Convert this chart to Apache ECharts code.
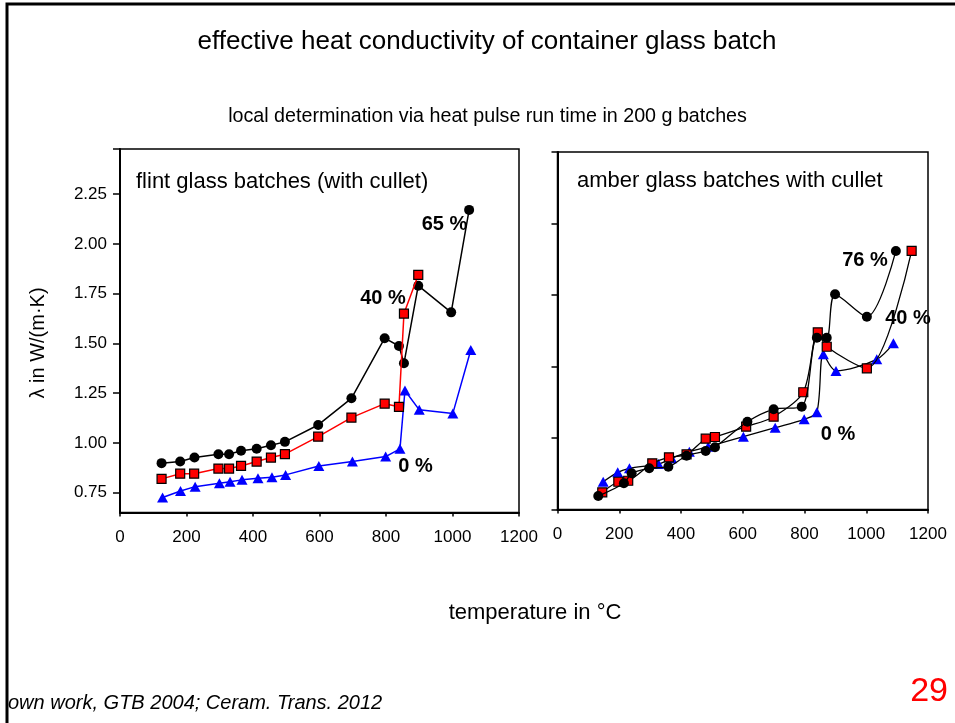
<!DOCTYPE html>
<html>
<head>
<meta charset="utf-8">
<script src="https://cdn.jsdelivr.net/npm/echarts@6/dist/echarts.min.js"></script>
<style>
  html, body { margin: 0; padding: 0; background: #ffffff; }
  #chart { width: 955px; height: 723px; }
</style>
</head>
<body>
<div id="chart"></div>
<script>
// Temperature (°C) and effective heat conductivity λ (W/(m·K))

// Flint glass batches, 65 % cullet
const flint65Temp = [125, 181, 224, 296, 328, 364, 411, 454, 496, 596, 696, 796, 839, 854, 897, 996, 1050];
const flint65Lambda = [0.898, 0.906, 0.926, 0.943, 0.943, 0.960, 0.970, 0.988, 1.005, 1.090, 1.224, 1.526, 1.487, 1.400, 1.790, 1.656, 2.171];

// Flint glass batches, 40 % cullet
const flint40Temp = [125, 181, 223, 296, 328, 364, 411, 454, 496, 596, 696, 796, 839, 854, 897];
const flint40Lambda = [0.819, 0.845, 0.845, 0.871, 0.871, 0.884, 0.906, 0.926, 0.943, 1.031, 1.127, 1.197, 1.181, 1.650, 1.844];

// Flint glass batches, 0 % cullet
const flint0Temp = [128, 182, 226, 299, 331, 367, 415, 457, 498, 598, 699, 799, 842, 857, 900, 1001, 1055];
const flint0Lambda = [0.725, 0.758, 0.780, 0.797, 0.804, 0.814, 0.822, 0.827, 0.839, 0.884, 0.906, 0.931, 0.970, 1.263, 1.166, 1.148, 1.467];

// Amber glass batches, 76 % cullet
const amber76Temp = [132, 215, 240, 297, 359, 418, 480, 510, 615, 700, 791, 840, 872, 899, 1002, 1096];
const amber76Lambda = [0.594, 0.683, 0.753, 0.788, 0.799, 0.876, 0.909, 0.935, 1.114, 1.201, 1.219, 1.701, 1.701, 2.005, 1.848, 2.308];

// Amber glass batches, 40 % cullet
const amber40Temp = [145, 197, 229, 307, 361, 418, 480, 510, 611, 700, 796, 843, 872, 1002, 1147];
const amber40Lambda = [0.620, 0.694, 0.701, 0.823, 0.865, 0.886, 0.995, 1.007, 1.079, 1.149, 1.320, 1.739, 1.638, 1.487, 2.308];

// Amber glass batches, 0 % cullet
const amber0Temp = [148, 195, 233, 327, 370, 427, 488, 602, 705, 799, 840, 861, 902, 1034, 1088];
const amber0Lambda = [0.694, 0.760, 0.788, 0.818, 0.858, 0.904, 0.939, 1.009, 1.072, 1.131, 1.180, 1.585, 1.469, 1.550, 1.662];

// Axis ticks
const tempTicks = [0, 200, 400, 600, 800, 1000, 1200];
const flintLambdaTicks = [0.75, 1.00, 1.25, 1.50, 1.75, 2.00, 2.25];
const amberLambdaTicks = [0.5, 1.0, 1.5, 2.0, 2.5, 3.0];

const FONT = 'Liberation Sans, Arial, sans-serif';

function pairs(xs, ys) {
  return xs.map((x, i) => [x, ys[i]]);
}

const chart = echarts.init(document.getElementById('chart'), null, { renderer: 'canvas' });

function xAxisFor(gridIndex) {
  return {
    gridIndex: gridIndex,
    type: 'value',
    min: tempTicks[0],
    max: tempTicks[tempTicks.length - 1],
    interval: 200,
    axisLine: { show: true, onZero: false, lineStyle: { color: '#000', width: 2 } },
    axisTick: { show: true, length: 4, lineStyle: { color: '#000', width: 1.5 } },
    axisLabel: {
      fontSize: 17, color: '#000', fontFamily: FONT, margin: 16,
      formatter: v => String(v)
    },
    splitLine: { show: false }
  };
}

const option = {
  backgroundColor: '#ffffff',
  animation: false,
  grid: [
    { left: 120, top: 149, width: 399, height: 363.5, show: true, borderColor: '#000', borderWidth: 1.5, containLabel: false },
    { left: 557.5, top: 152, width: 370.5, height: 357.5, show: true, borderColor: '#000', borderWidth: 1.5, containLabel: false }
  ],
  xAxis: [xAxisFor(0), xAxisFor(1)],
  yAxis: [
    {
      gridIndex: 0,
      type: 'value',
      min: 0.650,
      max: 2.477,
      axisLine: { show: true, onZero: false, lineStyle: { color: '#000', width: 2 } },
      axisTick: {
        show: true, length: 7,
        customValues: flintLambdaTicks.concat([2.477]),
        lineStyle: { color: '#000', width: 1.5 }
      },
      axisLabel: {
        customValues: flintLambdaTicks,
        formatter: v => v.toFixed(2),
        fontSize: 17, color: '#000', fontFamily: FONT, margin: 13
      },
      splitLine: { show: false }
    },
    {
      gridIndex: 1,
      type: 'value',
      min: amberLambdaTicks[0],
      max: amberLambdaTicks[amberLambdaTicks.length - 1],
      interval: 0.5,
      axisLine: { show: true, onZero: false, lineStyle: { color: '#000', width: 2 } },
      axisTick: { show: true, length: 6, lineStyle: { color: '#000', width: 1.5 } },
      axisLabel: { show: false },
      splitLine: { show: false }
    }
  ],
  series: [
    {
      name: '65 %', type: 'line', xAxisIndex: 0, yAxisIndex: 0,
      data: pairs(flint65Temp, flint65Lambda),
      symbol: 'circle', symbolSize: 10,
      lineStyle: { color: '#000', width: 1.5 },
      itemStyle: { color: '#000' }, z: 3
    },
    {
      name: '40 %', type: 'line', xAxisIndex: 0, yAxisIndex: 0,
      data: pairs(flint40Temp, flint40Lambda),
      symbol: 'rect', symbolSize: 9,
      lineStyle: { color: '#ff0000', width: 1.5 },
      itemStyle: { color: '#ff0000', borderColor: '#000', borderWidth: 1.2 }, z: 4
    },
    {
      name: '0 %', type: 'line', xAxisIndex: 0, yAxisIndex: 0,
      data: pairs(flint0Temp, flint0Lambda),
      symbol: 'triangle', symbolSize: [11, 10],
      lineStyle: { color: '#0000ff', width: 1.5 },
      itemStyle: { color: '#0000ff' }, z: 2
    },
    {
      name: '0 %', type: 'line', xAxisIndex: 1, yAxisIndex: 1,
      data: pairs(amber0Temp, amber0Lambda),
      smooth: 0.3,
      symbol: 'triangle', symbolSize: [11, 10],
      lineStyle: { color: '#000', width: 1.3 },
      itemStyle: { color: '#0000ff' }, z: 2
    },
    {
      name: '40 %', type: 'line', xAxisIndex: 1, yAxisIndex: 1,
      data: pairs(amber40Temp, amber40Lambda),
      smooth: 0.3,
      symbol: 'rect', symbolSize: 9,
      lineStyle: { color: '#000', width: 1.3 },
      itemStyle: { color: '#ff0000', borderColor: '#000', borderWidth: 1.2 }, z: 3
    },
    {
      name: '76 %', type: 'line', xAxisIndex: 1, yAxisIndex: 1,
      data: pairs(amber76Temp, amber76Lambda),
      smooth: 0.3,
      symbol: 'circle', symbolSize: 10,
      lineStyle: { color: '#000', width: 1.3 },
      itemStyle: { color: '#000' }, z: 4
    }
  ],
  graphic: [
    // slide frame
    {
      type: 'polyline', silent: true,
      shape: { points: [[955, 4], [7, 4], [7, 723]] },
      style: { stroke: '#000', lineWidth: 3, fill: null }
    },
    {
      type: 'text', x: 487, y: 42,
      style: { text: 'effective heat conductivity of container glass batch', font: '26px ' + FONT, fill: '#000', textAlign: 'center', textVerticalAlign: 'middle' }
    },
    {
      type: 'text', x: 487.5, y: 117,
      style: { text: 'local determination via heat pulse run time in 200 g batches', font: '19.7px ' + FONT, fill: '#000', textAlign: 'center', textVerticalAlign: 'middle' }
    },
    {
      type: 'text', x: 136, y: 182,
      style: { text: 'flint glass batches (with cullet)', font: '22px ' + FONT, fill: '#000', textAlign: 'left', textVerticalAlign: 'middle' }
    },
    {
      type: 'text', x: 577, y: 181,
      style: { text: 'amber glass batches with cullet', font: '22px ' + FONT, fill: '#000', textAlign: 'left', textVerticalAlign: 'middle' }
    },
    {
      type: 'text', x: 38, y: 343, rotation: Math.PI / 2,
      style: { text: 'λ in W/(m·K)', font: '20px ' + FONT, fill: '#000', textAlign: 'center', textVerticalAlign: 'middle' }
    },
    {
      type: 'text', x: 535, y: 613,
      style: { text: 'temperature in °C', font: '22px ' + FONT, fill: '#000', textAlign: 'center', textVerticalAlign: 'middle' }
    },
    {
      type: 'text', x: 8, y: 703,
      style: { text: 'own work, GTB 2004; Ceram. Trans. 2012', font: 'italic 20px ' + FONT, fill: '#000', textAlign: 'left', textVerticalAlign: 'middle' }
    },
    {
      type: 'text', x: 948, y: 692,
      style: { text: '29', font: '34px ' + FONT, fill: '#ff0000', textAlign: 'right', textVerticalAlign: 'middle' }
    },
    // curve labels
    { type: 'text', x: 444.5, y: 224, style: { text: '65 %', font: 'bold 20px ' + FONT, fill: '#000', textAlign: 'center', textVerticalAlign: 'middle' } },
    { type: 'text', x: 383, y: 298, style: { text: '40 %', font: 'bold 20px ' + FONT, fill: '#000', textAlign: 'center', textVerticalAlign: 'middle' } },
    { type: 'text', x: 415.5, y: 466, style: { text: '0 %', font: 'bold 20px ' + FONT, fill: '#000', textAlign: 'center', textVerticalAlign: 'middle' } },
    { type: 'text', x: 865, y: 260, style: { text: '76 %', font: 'bold 20px ' + FONT, fill: '#000', textAlign: 'center', textVerticalAlign: 'middle' } },
    { type: 'text', x: 908, y: 318, style: { text: '40 %', font: 'bold 20px ' + FONT, fill: '#000', textAlign: 'center', textVerticalAlign: 'middle' } },
    { type: 'text', x: 838, y: 434, style: { text: '0 %', font: 'bold 20px ' + FONT, fill: '#000', textAlign: 'center', textVerticalAlign: 'middle' } }
  ]
};

chart.setOption(option);
</script>
</body>
</html>
